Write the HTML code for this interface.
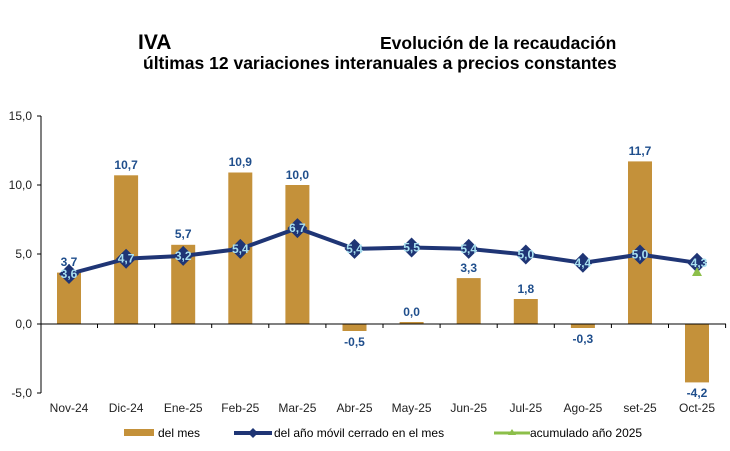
<!DOCTYPE html><html><head><style>body{margin:0;background:#fff}svg{font-family:"Liberation Sans",sans-serif}</style></head><body>
<svg width="730" height="446" xmlns="http://www.w3.org/2000/svg">
<text x="138" y="49" font-size="21" font-weight="bold">IVA</text>
<text x="380" y="49" font-size="17.5" font-weight="bold">Evolución de la recaudación</text>
<text x="143" y="69" font-size="17.5" font-weight="bold">últimas 12 variaciones interanuales a precios constantes</text>
<g font-size="12" fill="#222" text-anchor="end">
<text x="32" y="120">15,0</text><text x="32" y="189">10,0</text><text x="32" y="258">5,0</text><text x="32" y="328">0,0</text><text x="32" y="397">-5,0</text></g>
<g fill="#c4913a">
<rect x="57" y="272.6" width="24" height="51.4"/>
<rect x="114.1" y="175.3" width="24" height="148.7"/>
<rect x="171.2" y="244.8" width="24" height="79.2"/>
<rect x="228.3" y="172.5" width="24" height="151.5"/>
<rect x="285.4" y="185" width="24" height="139"/>
<rect x="342.5" y="324" width="24" height="7"/>
<rect x="399.6" y="322" width="24" height="2"/>
<rect x="456.7" y="278.1" width="24" height="45.9"/>
<rect x="513.8" y="299" width="24" height="25"/>
<rect x="570.9" y="324" width="24" height="4"/>
<rect x="628" y="161.4" width="24" height="162.6"/>
<rect x="685" y="324" width="24" height="58.4"/>
</g>
<g stroke="#000" stroke-width="1"><line x1="41" y1="116" x2="41" y2="393"/>
<line x1="37" y1="116" x2="41" y2="116"/><line x1="37" y1="185" x2="41" y2="185"/><line x1="37" y1="254" x2="41" y2="254"/><line x1="37" y1="324" x2="41" y2="324"/><line x1="37" y1="393" x2="41" y2="393"/>
<line x1="41" y1="324" x2="726" y2="324"/>
<path d="M97.5 324v4M154.6 324v4M211.7 324v4M268.8 324v4M325.9 324v4M383 324v4M440.1 324v4M497.2 324v4M554.3 324v4M611.4 324v4M668.5 324v4M725.6 324v4"/></g>
<g font-size="12" font-weight="bold" fill="#1f4e8c" text-anchor="middle">
<text x="69" y="266">3,7</text><text x="126.1" y="169">10,7</text><text x="183.2" y="238">5,7</text><text x="240.3" y="166">10,9</text><text x="297.4" y="179">10,0</text><text x="354.5" y="346">-0,5</text><text x="411.6" y="316">0,0</text><text x="468.7" y="272">3,3</text><text x="525.8" y="293">1,8</text><text x="582.9" y="343">-0,3</text><text x="640" y="155">11,7</text><text x="697" y="397">-4,2</text>
</g>
<polyline points="69,274 126.1,258.7 183.2,255.9 240.3,248.9 297.4,228.1 354.5,248.9 411.6,247.5 468.7,248.9 525.8,254.5 582.9,262.8 640,254.5 697,262.8" fill="none" stroke="#1f3575" stroke-width="4"/>
<g fill="#1f3575">
<path d="M69 264l10 10-10 10-10-10z"/><path d="M126.1 248.7l10 10-10 10-10-10z"/><path d="M183.2 245.9l10 10-10 10-10-10z"/><path d="M240.3 238.9l10 10-10 10-10-10z"/><path d="M297.4 218.1l10 10-10 10-10-10z"/><path d="M354.5 238.9l10 10-10 10-10-10z"/><path d="M411.6 237.5l10 10-10 10-10-10z"/><path d="M468.7 238.9l10 10-10 10-10-10z"/><path d="M525.8 244.5l10 10-10 10-10-10z"/><path d="M582.9 252.8l10 10-10 10-10-10z"/><path d="M640 244.5l10 10-10 10-10-10z"/><path d="M697 252.8l10 10-10 10-10-10z"/>
</g>
<polygon points="697,267 702,276 692,276" fill="#8cbf4a"/>
<g font-size="12" font-weight="bold" fill="#a8e0f0" text-anchor="middle">
<text x="69" y="278">3,6</text><text x="126.1" y="262.7">4,7</text><text x="183.2" y="259.9">3,2</text><text x="240.3" y="252.9">5,4</text><text x="297.4" y="232.1">6,7</text><text x="354.5" y="252.9">5,4</text><text x="411.6" y="251.5">5,5</text><text x="468.7" y="252.9">5,4</text><text x="525.8" y="258.5">5,0</text><text x="582.9" y="266.8">4,4</text><text x="640" y="258.5">5,0</text><text x="699" y="266.8">4,3</text>
</g>
<g font-size="12" fill="#222" text-anchor="middle">
<text x="69" y="412">Nov-24</text><text x="126.1" y="412">Dic-24</text><text x="183.2" y="412">Ene-25</text><text x="240.3" y="412">Feb-25</text><text x="297.4" y="412">Mar-25</text><text x="354.5" y="412">Abr-25</text><text x="411.6" y="412">May-25</text><text x="468.7" y="412">Jun-25</text><text x="525.8" y="412">Jul-25</text><text x="582.9" y="412">Ago-25</text><text x="640" y="412">set-25</text><text x="697" y="412">Oct-25</text>
</g>
<rect x="124" y="429" width="30" height="7" fill="#c4913a"/><text x="158" y="437" font-size="12">del mes</text>
<line x1="234" y1="433" x2="272" y2="433" stroke="#1f3575" stroke-width="4"/><polygon points="253,428 258,433 253,438 248,433" fill="#1f3575"/><text x="274" y="437" font-size="12">del año móvil cerrado en el mes</text>
<line x1="494" y1="433" x2="530" y2="433" stroke="#8cbf4a" stroke-width="3"/><polygon points="512,429 516,435 508,435" fill="#8cbf4a"/><text x="530" y="437" font-size="12">acumulado año 2025</text>
</svg></body></html>
